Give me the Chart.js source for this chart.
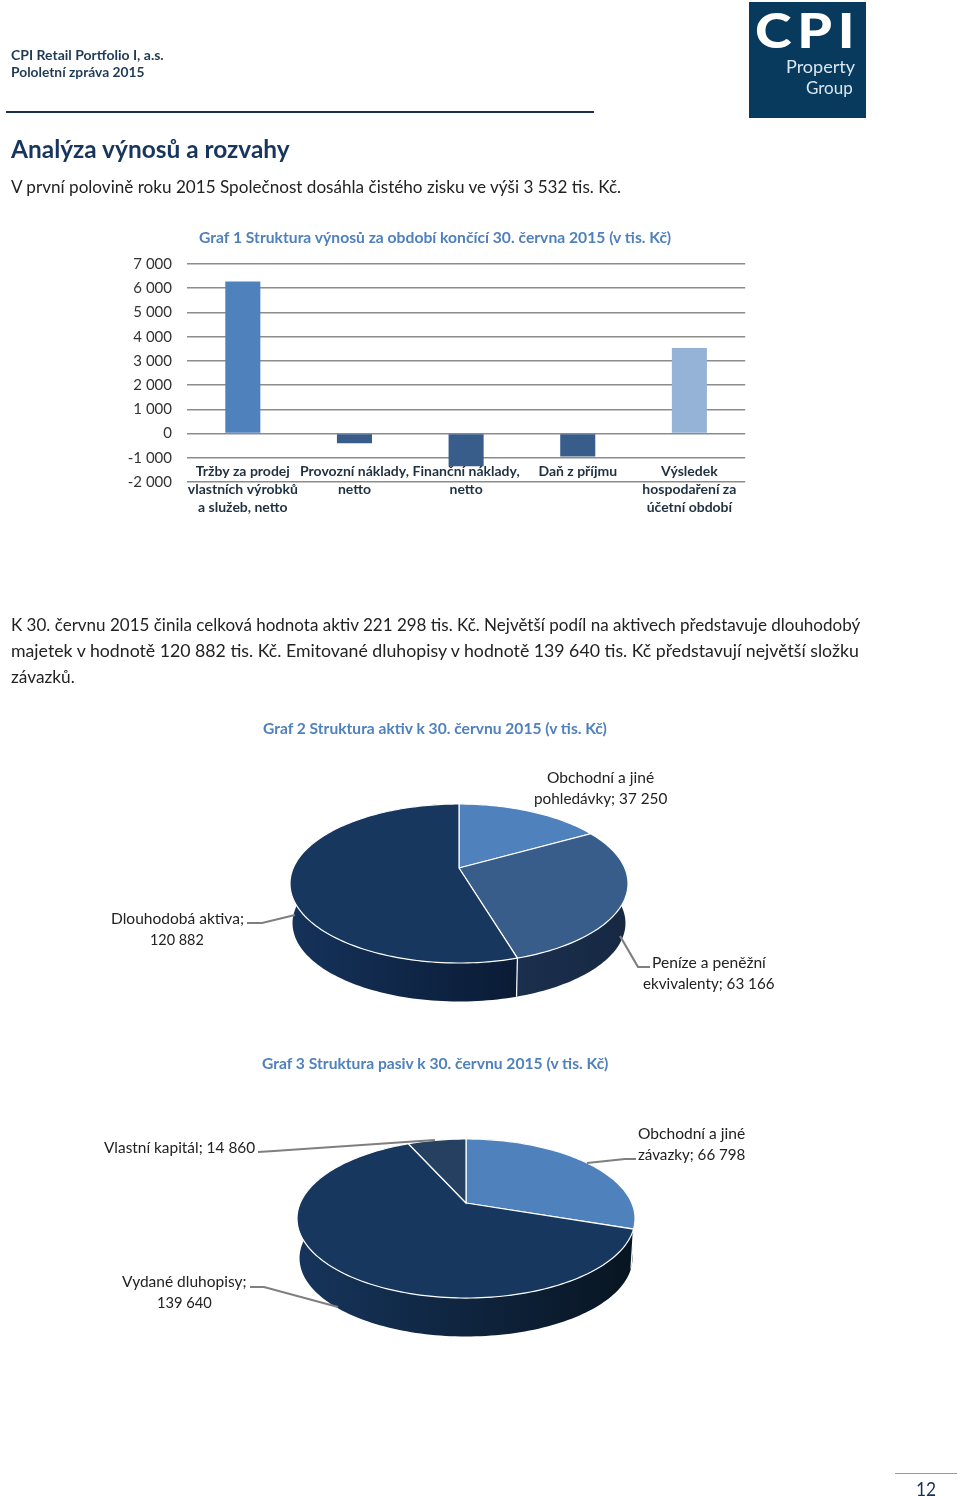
<!DOCTYPE html>
<html lang="cs">
<head>
<meta charset="utf-8">
<title>Analýza výnosů a rozvahy</title>
<script src="https://cdn.jsdelivr.net/npm/chart.js@4/dist/chart.umd.js"></script>
<style>
  html, body { margin: 0; padding: 0; background: #fff; }
  #page { position: relative; width: 960px; height: 1496px; overflow: hidden; font-family: Lato, sans-serif; }
  #page canvas { position: absolute; }
  #page svg { position: absolute; left: 0; top: 0; z-index: 3; }
  .t { position: absolute; white-space: pre; line-height: 1; transform-origin: left center; z-index: 4; }
  .rule { position: absolute; }
</style>
</head>
<body>
<div id="page">
  <div class="rule" style="left:749px;top:2px;width:117px;height:116px;background:#073a5c"></div>
  <div class="rule" style="left:6px;top:111px;width:588px;height:2px;background:#1b2f4f"></div>
  <div class="rule" style="left:895px;top:1473px;width:62px;height:1px;background:#999"></div>

  <canvas id="barChart" width="646" height="280" style="left:120px;top:240px"></canvas>
  <canvas id="assetPie" width="360" height="280" style="left:279px;top:728px"></canvas>
  <canvas id="liabPie" width="360" height="280" style="left:286px;top:1063px"></canvas>

  <svg width="960" height="1496" fill="none" stroke="#7f7f7f" stroke-width="2.2">
    <polyline points="247,923 262,923 295,915"/>
    <polyline points="620,936 638,967 650,967"/>
    <polyline points="258,1152 274,1151 435,1140"/>
    <polyline points="587,1163 625,1159 636,1159"/>
    <polyline points="250,1287 264,1287 338,1307"/>
  </svg>
</div>

<script>
// Graf 1
const revenueCategories = [
  ["Tržby za prodej", "vlastních výrobků", "a služeb, netto"],
  ["Provozní náklady,", "netto"],
  ["Finanční náklady,", "netto"],
  ["Daň z příjmu"],
  ["Výsledek", "hospodaření za", "účetní období"]
];
const revenueValues = [6280, -400, -1350, -950, 3532];
const revenueColors = ["#4f81bd", "#385d8a", "#385d8a", "#385d8a", "#95b3d7"];
const yTickLabels = ["-2 000", "-1 000", "0", "1 000", "2 000", "3 000", "4 000", "5 000", "6 000", "7 000"];

// Graf 2
const assetCategories = ["Obchodní a jiné pohledávky", "Peníze a peněžní ekvivalenty", "Dlouhodobá aktiva"];
const assetValues = [37250, 63166, 120882];
const assetColors = ["#4f81bd", "#385d8a", "#17375e"];
const assetWallFrom = ["#2f4f78", "#1b2f4e", "#15325a"];
const assetWallTo = ["#2f4f78", "#162842", "#0a1b35"];

// Graf 3
const liabCategories = ["Obchodní a jiné závazky", "Vydané dluhopisy", "Vlastní kapitál"];
const liabValues = [66798, 139640, 14860];
const liabColors = ["#4f81bd", "#17375e", "#254061"];
const liabWallFrom = ["#0a1722", "#16345b", "#1c3048"];
const liabWallTo = ["#0a1722", "#081522", "#1c3048"];

// text, left, middle y, size, width, weight, colour, letter spacing
const textLines = [
  ["CPI", 755, 30, 48, 105, 900, "#ffffff", 5],
  ["Property", 786, 66, 17, 69, 400, "#dbe6ee"],
  ["Group", 806, 87, 17, 47, 400, "#dbe6ee"],
  ["CPI Retail Portfolio I, a.s.", 11, 55, 14, 153, 700, "#1f3a57"],
  ["Pololetní zpráva 2015", 11, 72, 14, 134, 700, "#1f3a57"],
  ["Analýza výnosů a rozvahy", 11, 149, 24, 279, 700, "#17365d"],
  ["V první polovině roku 2015 Společnost dosáhla čistého zisku ve výši 3 532 tis. Kč.", 11, 186, 17, 610, 400, "#222222"],
  ["Graf 1 Struktura výnosů za období končící 30. června 2015 (v tis. Kč)", 199, 237, 16, 472, 700, "#4f81bd"],
  ["K 30. červnu 2015 činila celková hodnota aktiv 221 298 tis. Kč. Největší podíl na aktivech představuje dlouhodobý", 11, 624, 17, 849, 400, "#222222"],
  ["majetek v hodnotě 120 882 tis. Kč. Emitované dluhopisy v hodnotě 139 640 tis. Kč představují největší složku", 11, 650, 17, 848, 400, "#222222"],
  ["závazků.", 11, 676, 17, 64, 400, "#222222"],
  ["Graf 2 Struktura aktiv k 30. červnu 2015 (v tis. Kč)", 263, 728, 16, 344, 700, "#4f81bd"],
  ["Obchodní a jiné", 547, 777, 16, 107, 400, "#222222"],
  ["pohledávky; 37 250", 534, 798, 16, 133, 400, "#222222"],
  ["Dlouhodobá aktiva;", 111, 918, 16, 133, 400, "#222222"],
  ["120 882", 150, 939, 16, 54, 400, "#222222"],
  ["Peníze a peněžní", 652, 962, 16, 114, 400, "#222222"],
  ["ekvivalenty; 63 166", 643, 983, 16, 132, 400, "#222222"],
  ["Graf 3 Struktura pasiv k 30. červnu 2015 (v tis. Kč)", 262, 1063, 16, 346, 700, "#4f81bd"],
  ["Vlastní kapitál; 14 860", 104, 1147, 16, 151, 400, "#222222"],
  ["Obchodní a jiné", 638, 1133, 16, 107, 400, "#222222"],
  ["závazky; 66 798", 638, 1154, 16, 107, 400, "#222222"],
  ["Vydané dluhopisy;", 122, 1281, 16, 125, 400, "#222222"],
  ["139 640", 157, 1302, 16, 55, 400, "#222222"],
  ["12", 916, 1488, 20, 20, 400, "#1b2f4f"]
];

const page = document.getElementById("page");
textLines.forEach(function (line) {
  const el = document.createElement("div");
  el.className = "t";
  el.textContent = line[0];
  el.style.left = line[1] + "px";
  el.style.top = (line[2] - line[3] / 2) + "px";
  el.style.fontSize = line[3] + "px";
  el.style.fontWeight = line[5];
  el.style.color = line[6];
  if (line[7]) el.style.letterSpacing = line[7] + "px";
  page.appendChild(el);
  // squeeze to the width measured on the reference
  el.style.transform = "scaleX(" + (line[4] / el.offsetWidth) + ")";
});

new Chart(document.getElementById("barChart"), {
  type: "bar",
  data: {
    labels: revenueCategories,
    datasets: [{
      data: revenueValues,
      backgroundColor: revenueColors,
      categoryPercentage: 0.314,
      barPercentage: 1
    }]
  },
  options: {
    responsive: false,
    animation: false,
    events: [],
    layout: { padding: { top: 5, right: 6, left: 0, bottom: 38 } },
    plugins: { legend: { display: false }, tooltip: { enabled: false } },
    scales: {
      x: {
        position: { y: 0 }, // axis hangs off the zero line, labels run over the lower gridlines
        grid: { display: false, drawTicks: false },
        border: { display: false },
        ticks: {
          z: 1,
          padding: 29,
          maxRotation: 0,
          autoSkip: false,
          color: "#1f3040",
          font: { family: "Lato", size: 14, weight: "bold", lineHeight: 1.286 }
        }
      },
      y: {
        min: -2000,
        max: 7000,
        grid: { color: "#8c8c8c", lineWidth: 1.5, drawTicks: false },
        border: { display: false },
        afterFit: function (scale) { scale.width = 67; },
        ticks: {
          stepSize: 1000,
          padding: 15,
          color: "#333333",
          font: { family: "Lato", size: 15 },
          callback: function (value, index) { return yTickLabels[index]; }
        }
      }
    }
  }
});

// Excel style perspective pie. Angles come from the library's arcs, the disc is
// only projected: far edge is squeezed, near edge stretched.
const tiltPlugin = {
  id: "tilt",
  beforeDatasetDraw: function (chart, args, opts) {
    const ctx = chart.ctx;
    const arcs = chart.getDatasetMeta(args.index).data;
    const cx = arcs[0].x, cy = arcs[0].y, r = arcs[0].outerRadius;
    const point = function (angle, size, drop) {
      const w = 1 - opts.perspective * Math.sin(angle);
      return [
        cx + r * opts.scaleX * size * Math.cos(angle) / w,
        cy + r * opts.depth * drop + r * opts.scaleY * size * Math.sin(angle) / w
      ];
    };
    const rim = function (a, b, size, drop, first) {
      const steps = Math.max(2, Math.ceil(Math.abs(b - a) * 40));
      for (let i = 0; i <= steps; i++) {
        const p = point(a + (b - a) * i / steps, size, drop);
        if (i === 0 && first) ctx.moveTo(p[0], p[1]);
        else ctx.lineTo(p[0], p[1]);
      }
    };

    // walls
    arcs.forEach(function (arc, i) {
      let minX = Infinity, maxX = -Infinity;
      for (let t = 0; t <= 40; t++) {
        const a = arc.startAngle + (arc.endAngle - arc.startAngle) * t / 40;
        if (Math.sin(a) < 0) continue;
        const px = point(a, opts.baseSize, 1)[0];
        minX = Math.min(minX, px);
        maxX = Math.max(maxX, px);
      }
      if (minX === Infinity) return;
      const grad = ctx.createLinearGradient(minX, 0, maxX, 0);
      grad.addColorStop(0, opts.wallFrom[i]);
      grad.addColorStop(1, opts.wallTo[i]);
      ctx.beginPath();
      rim(arc.startAngle, arc.endAngle, 1, 0, true);
      rim(arc.endAngle, arc.startAngle, opts.baseSize, 1, false);
      ctx.closePath();
      ctx.fillStyle = grad;
      ctx.fill();
    });

    // white seam where a boundary faces the viewer
    ctx.strokeStyle = "#ffffff";
    ctx.lineWidth = 1.2;
    arcs.forEach(function (arc) {
      if (Math.sin(arc.startAngle) <= opts.perspective) return;
      const a = point(arc.startAngle, 1, 0), b = point(arc.startAngle, opts.baseSize, 1);
      ctx.beginPath();
      ctx.moveTo(a[0], a[1]);
      ctx.lineTo(b[0], b[1]);
      ctx.stroke();
    });

    // top faces
    arcs.forEach(function (arc) {
      ctx.beginPath();
      ctx.moveTo(cx, cy);
      rim(arc.startAngle, arc.endAngle, 1, 0, false);
      ctx.closePath();
      ctx.fillStyle = arc.options.backgroundColor;
      ctx.fill();
      ctx.stroke();
    });
    return false;
  }
};

function drawPie(canvasId, labels, values, colors, wallFrom, wallTo) {
  new Chart(document.getElementById(canvasId), {
    type: "pie",
    data: { labels: labels, datasets: [{ data: values, backgroundColor: colors, borderWidth: 0 }] },
    options: {
      responsive: false,
      animation: false,
      events: [],
      plugins: {
        legend: { display: false },
        tooltip: { enabled: false },
        tilt: {
          perspective: 0.195,
          scaleX: 1.184,
          scaleY: 0.5464,
          depth: 0.285,
          baseSize: 0.985,
          wallFrom: wallFrom,
          wallTo: wallTo
        }
      }
    },
    plugins: [tiltPlugin]
  });
}

drawPie("assetPie", assetCategories, assetValues, assetColors, assetWallFrom, assetWallTo);
drawPie("liabPie", liabCategories, liabValues, liabColors, liabWallFrom, liabWallTo);
</script>
</body>
</html>
